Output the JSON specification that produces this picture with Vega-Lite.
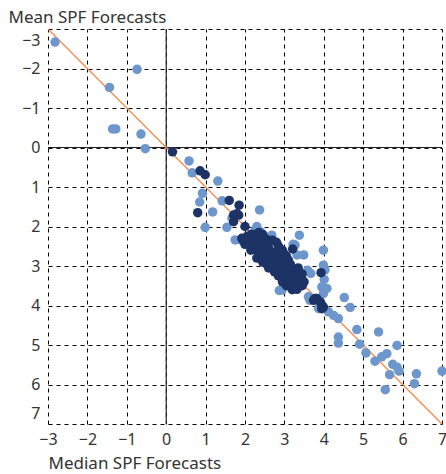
{
  "$schema": "https://vega.github.io/schema/vega-lite/v6.json",
  "width": 394,
  "height": 395,
  "autosize": "none",
  "padding": {"left": 48, "top": 29, "right": 4, "bottom": 50},
  "config": {
    "view": {"stroke": null},
    "font": "Noto Sans",
    "axis": {
      "grid": true, "gridColor": "#000", "gridOpacity": 1, "gridDash": [4, 4], "gridWidth": 1,
      "domain": false, "ticks": false, "labelOverlap": false,
      "labelFont": "Noto Sans", "labelFontSize": 16, "labelColor": "#333",
      "titleFont": "Noto Sans", "titleFontSize": 17, "titleFontWeight": "normal", "titleColor": "#333"
    }
  },
  "datasets": {
    "pts": [
      {"x": -2.82, "y": -2.67, "g": "L"}, {"x": -0.74, "y": -1.98, "g": "L"}, {"x": -1.44, "y": -1.52, "g": "L"},
      {"x": -1.36, "y": -0.47, "g": "L"}, {"x": -1.28, "y": -0.47, "g": "L"}, {"x": -0.64, "y": -0.34, "g": "L"},
      {"x": -0.53, "y": 0.03, "g": "L"}, {"x": 0.58, "y": 0.34, "g": "L"}, {"x": 0.66, "y": 0.64, "g": "L"},
      {"x": 1.31, "y": 0.85, "g": "L"}, {"x": 0.92, "y": 1.16, "g": "L"}, {"x": 0.85, "y": 1.38, "g": "L"},
      {"x": 1.18, "y": 1.63, "g": "L"}, {"x": 1.42, "y": 1.35, "g": "L"}, {"x": 1.67, "y": 1.79, "g": "L"},
      {"x": 0.99, "y": 2.02, "g": "L"}, {"x": 1.54, "y": 2.02, "g": "L"}, {"x": 2.37, "y": 1.58, "g": "L"},
      {"x": 1.75, "y": 2.34, "g": "L"}, {"x": 1.88, "y": 2.34, "g": "L"}, {"x": 2.30, "y": 2.0, "g": "L"},
      {"x": 2.26, "y": 2.09, "g": "L"}, {"x": 2.39, "y": 2.13, "g": "L"},
      {"x": 2.64, "y": 2.26, "g": "L"}, {"x": 2.68, "y": 2.22, "g": "L"}, {"x": 3.38, "y": 2.22, "g": "L"},
      {"x": 3.27, "y": 2.47, "g": "L"}, {"x": 3.22, "y": 2.45, "g": "L"}, {"x": 3.49, "y": 2.72, "g": "L"},
      {"x": 3.32, "y": 2.72, "g": "L"},
      {"x": 3.99, "y": 2.60, "g": "L"}, {"x": 2.89, "y": 2.77, "g": "L"}, {"x": 2.98, "y": 3.27, "g": "L"},
      {"x": 2.97, "y": 3.37, "g": "L"}, {"x": 2.87, "y": 3.62, "g": "L"}, {"x": 2.94, "y": 3.61, "g": "L"},
      {"x": 3.59, "y": 3.11, "g": "L"}, {"x": 3.67, "y": 3.19, "g": "L"}, {"x": 3.99, "y": 2.98, "g": "L"},
      {"x": 4.03, "y": 3.10, "g": "L"}, {"x": 4.01, "y": 3.34, "g": "L"}, {"x": 3.95, "y": 3.53, "g": "L"},
      {"x": 4.08, "y": 3.57, "g": "L"}, {"x": 3.99, "y": 3.70, "g": "L"}, {"x": 3.61, "y": 3.78, "g": "L"},
      {"x": 3.65, "y": 3.87, "g": "L"}, {"x": 3.87, "y": 4.08, "g": "L"}, {"x": 4.12, "y": 4.16, "g": "L"},
      {"x": 4.25, "y": 4.25, "g": "L"}, {"x": 4.37, "y": 4.33, "g": "L"}, {"x": 4.52, "y": 3.80, "g": "L"},
      {"x": 4.67, "y": 4.05, "g": "L"}, {"x": 4.84, "y": 4.61, "g": "L"}, {"x": 5.39, "y": 4.67, "g": "L"},
      {"x": 4.37, "y": 4.80, "g": "L"}, {"x": 4.37, "y": 4.95, "g": "L"}, {"x": 4.91, "y": 4.98, "g": "L"},
      {"x": 5.07, "y": 5.20, "g": "L"}, {"x": 5.86, "y": 5.01, "g": "L"}, {"x": 5.30, "y": 5.41, "g": "L"},
      {"x": 5.47, "y": 5.30, "g": "L"}, {"x": 5.60, "y": 5.22, "g": "L"}, {"x": 5.75, "y": 5.49, "g": "L"},
      {"x": 5.86, "y": 5.56, "g": "L"}, {"x": 5.91, "y": 5.66, "g": "L"}, {"x": 5.67, "y": 5.75, "g": "L"},
      {"x": 6.35, "y": 5.73, "g": "L"}, {"x": 6.30, "y": 5.98, "g": "L"}, {"x": 7.0, "y": 5.66, "g": "L"},
      {"x": 5.56, "y": 6.13, "g": "L"},
      {"x": 0.16, "y": 0.11, "g": "D"}, {"x": 0.86, "y": 0.59, "g": "D"}, {"x": 0.99, "y": 0.69, "g": "D"},
      {"x": 0.80, "y": 1.65, "g": "D"}, {"x": 1.60, "y": 1.34, "g": "D"}, {"x": 1.85, "y": 1.46, "g": "D"},
      {"x": 1.71, "y": 1.71, "g": "D"}, {"x": 1.84, "y": 1.71, "g": "D"}, {"x": 1.71, "y": 1.88, "g": "D"},
      {"x": 1.79, "y": 1.68, "g": "D"}, {"x": 1.92, "y": 2.30, "g": "D"}, {"x": 1.94, "y": 2.33, "g": "D"},
      {"x": 2.0, "y": 2.0, "g": "D"}, {"x": 2.05, "y": 2.25, "g": "D"}, {"x": 2.1, "y": 2.4, "g": "D"},
      {"x": 2.15, "y": 2.2, "g": "D"}, {"x": 2.2, "y": 2.35, "g": "D"}, {"x": 2.2, "y": 2.55, "g": "D"},
      {"x": 2.25, "y": 2.45, "g": "D"}, {"x": 2.3, "y": 2.3, "g": "D"}, {"x": 2.3, "y": 2.6, "g": "D"},
      {"x": 2.35, "y": 2.5, "g": "D"}, {"x": 2.4, "y": 2.4, "g": "D"}, {"x": 2.4, "y": 2.7, "g": "D"},
      {"x": 2.45, "y": 2.6, "g": "D"}, {"x": 2.5, "y": 2.5, "g": "D"}, {"x": 2.5, "y": 2.8, "g": "D"},
      {"x": 2.55, "y": 2.65, "g": "D"}, {"x": 2.6, "y": 2.55, "g": "D"}, {"x": 2.6, "y": 2.9, "g": "D"},
      {"x": 2.65, "y": 2.75, "g": "D"}, {"x": 2.7, "y": 2.65, "g": "D"}, {"x": 2.7, "y": 3.0, "g": "D"},
      {"x": 2.75, "y": 2.85, "g": "D"}, {"x": 2.8, "y": 2.7, "g": "D"}, {"x": 2.8, "y": 3.05, "g": "D"},
      {"x": 2.85, "y": 2.95, "g": "D"}, {"x": 2.9, "y": 2.8, "g": "D"}, {"x": 2.9, "y": 3.15, "g": "D"},
      {"x": 2.95, "y": 3.0, "g": "D"}, {"x": 3.0, "y": 2.9, "g": "D"}, {"x": 3.0, "y": 3.25, "g": "D"},
      {"x": 3.05, "y": 3.1, "g": "D"}, {"x": 3.1, "y": 3.0, "g": "D"}, {"x": 3.1, "y": 3.35, "g": "D"},
      {"x": 3.15, "y": 3.2, "g": "D"}, {"x": 3.2, "y": 3.1, "g": "D"}, {"x": 3.2, "y": 3.45, "g": "D"},
      {"x": 3.25, "y": 3.3, "g": "D"}, {"x": 3.3, "y": 3.2, "g": "D"}, {"x": 3.3, "y": 3.5, "g": "D"},
      {"x": 3.35, "y": 3.4, "g": "D"}, {"x": 3.4, "y": 3.3, "g": "D"}, {"x": 3.45, "y": 3.5, "g": "D"},
      {"x": 3.5, "y": 3.4, "g": "D"}, {"x": 2.3, "y": 2.8, "g": "D"}, {"x": 2.0, "y": 2.45, "g": "D"},
      {"x": 2.15, "y": 2.6, "g": "D"}, {"x": 2.55, "y": 2.95, "g": "D"}, {"x": 2.75, "y": 3.15, "g": "D"},
      {"x": 2.95, "y": 3.4, "g": "D"}, {"x": 3.05, "y": 3.5, "g": "D"}, {"x": 2.6, "y": 2.35, "g": "D"},
      {"x": 2.35, "y": 2.15, "g": "D"}, {"x": 2.85, "y": 2.5, "g": "D"}, {"x": 3.0, "y": 2.7, "g": "D"},
      {"x": 2.7, "y": 2.35, "g": "D"}, {"x": 2.5, "y": 2.3, "g": "D"}, {"x": 2.95, "y": 2.6, "g": "D"},
      {"x": 3.05, "y": 2.75, "g": "D"}, {"x": 3.1, "y": 2.85, "g": "D"}, {"x": 2.35, "y": 2.75, "g": "D"},
      {"x": 2.45, "y": 2.9, "g": "D"}, {"x": 2.6, "y": 3.05, "g": "D"}, {"x": 2.85, "y": 3.25, "g": "D"},
      {"x": 3.35, "y": 3.05, "g": "D"}, {"x": 3.45, "y": 3.2, "g": "D"}, {"x": 3.45, "y": 3.35, "g": "D"},
      {"x": 3.2, "y": 3.6, "g": "D"}, {"x": 2.2, "y": 2.2, "g": "D"}, {"x": 2.45, "y": 2.2, "g": "D"},
      {"x": 2.8, "y": 2.4, "g": "D"}, {"x": 3.15, "y": 2.95, "g": "D"},
      {"x": 3.21, "y": 2.57, "g": "D"}, {"x": 3.10, "y": 3.43, "g": "D"}, {"x": 3.32, "y": 3.59, "g": "D"},
      {"x": 3.93, "y": 3.17, "g": "D"}, {"x": 3.82, "y": 3.82, "g": "D"}, {"x": 3.74, "y": 3.87, "g": "D"},
      {"x": 3.91, "y": 3.91, "g": "D"}, {"x": 3.95, "y": 4.08, "g": "D"}, {"x": 3.99, "y": 4.04, "g": "D"},
      {"x": 3.78, "y": 3.82, "g": "D"}, {"x": 3.95, "y": 3.99, "g": "D"}
    ]
  },
  "layer": [
    {
      "data": {"values": [{"x": 0}]},
      "mark": {"type": "rule", "color": "#222", "strokeWidth": 1.2},
      "encoding": {
        "x": {
          "field": "x", "type": "quantitative",
          "scale": {"domain": [-3, 7], "nice": false, "zero": false},
          "axis": {
            "tickCount": 10, "tickMinStep": 1, "labelPadding": 7, "labelFlush": false, "labelOverlap": false,
            "title": "Median SPF Forecasts", "titleAlign": "left", "titleAnchor": "start",
            "titleX": 0, "titleY": 44, "titleBaseline": "alphabetic"
          }
        }
      }
    },
    {
      "data": {"values": [{"y": 0}]},
      "mark": {"type": "rule", "color": "#222", "strokeWidth": 1.2},
      "encoding": {
        "y": {
          "field": "y", "type": "quantitative",
          "scale": {"domain": [-3, 7], "nice": false, "zero": false, "reverse": true},
          "axis": {
            "tickCount": 10, "tickMinStep": 1, "labelPadding": 8, "labelFlush": true, "labelFlushOffset": -3,
            "labelOverlap": false,
            "title": "Mean SPF Forecasts", "titleAngle": 0, "titleAlign": "left",
            "titleX": -40, "titleY": -7, "titleBaseline": "alphabetic"
          }
        }
      }
    },
    {
      "data": {"values": [{"x": -3, "y": -3}, {"x": 7, "y": 7}]},
      "mark": {"type": "line", "color": "#f28b4e", "strokeWidth": 1.3},
      "encoding": {
        "x": {"field": "x", "type": "quantitative"},
        "y": {"field": "y", "type": "quantitative"}
      }
    },
    {
      "data": {"name": "pts"},
      "mark": {"type": "circle", "size": 90, "opacity": 1},
      "encoding": {
        "x": {"field": "x", "type": "quantitative"},
        "y": {"field": "y", "type": "quantitative"},
        "color": {
          "field": "g", "type": "nominal", "legend": null,
          "scale": {"domain": ["L", "D"], "range": ["#6d97cc", "#1d3366"]}
        }
      }
    }
  ]
}
